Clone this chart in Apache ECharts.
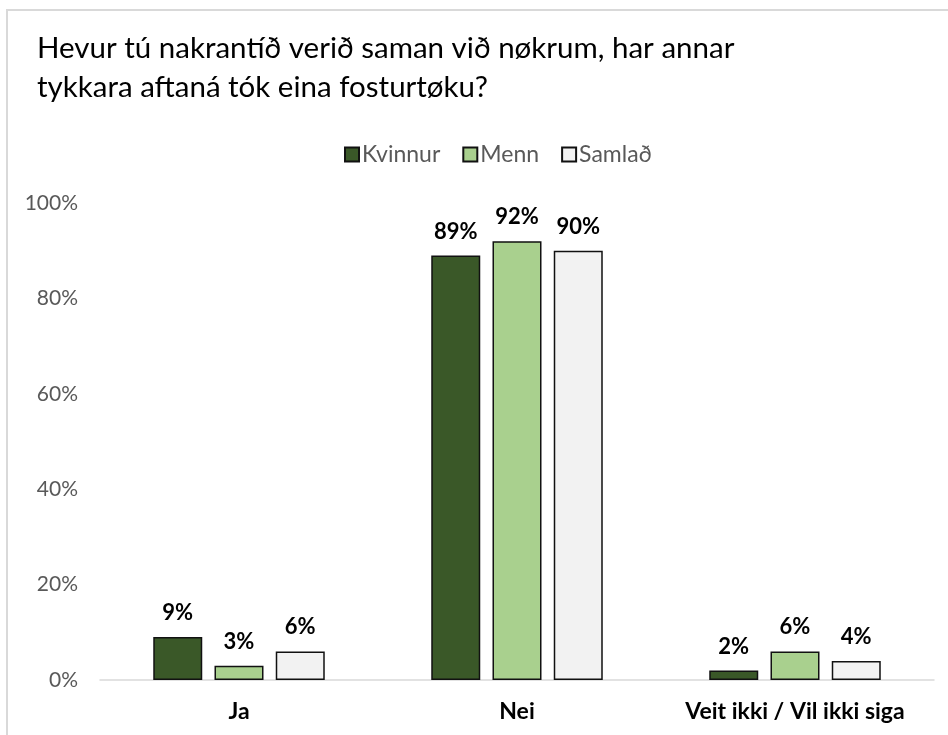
<!DOCTYPE html>
<html><head><meta charset="utf-8">
<script src="https://cdn.jsdelivr.net/npm/echarts@6/dist/echarts.min.js"></script>
<style>html,body{margin:0;padding:0;background:#fff}#c{width:948px;height:735px}</style>
</head><body><div id="c"></div>
<script>
const categories = ['Ja', 'Nei', 'Veit ikki / Vil ikki siga'];
const kvinnur = [9, 89, 2];
const menn = [3, 92, 6];
const samlad = [6, 90, 4];
const seriesNames = ['Kvinnur', 'Menn', 'Samlað'];
const yTicks = [0, 20, 40, 60, 80, 100];

const font = 'Lato, sans-serif';
const colors = ['#3a5828', '#a9d08e', '#f2f2f2'];
const chart = echarts.init(document.getElementById('c'));
function mk(name, data, i) {
  return {
    name, type: 'bar', data, barWidth: 49, barGap: '25%',
    itemStyle: { color: colors[i], borderColor: '#111', borderWidth: 1.5 },
    label: { show: true, position: 'top', distance: 13, formatter: '{c}%',
      fontFamily: font, fontWeight: 'bold', fontSize: 22, color: '#000' }
  };
}
chart.setOption({
  animation: false,
  textStyle: { fontFamily: font },
  graphic: [{ type: 'rect', shape: { x: 7, y: 10, width: 960, height: 760 },
    style: { fill: 'none', stroke: '#d9d9d9', lineWidth: 2 } }],
  title: { text: 'Hevur tú nakrantíð verið saman við nøkrum, har annar\ntykkara aftaná tók eina fosturtøku?',
    left: 32, top: 24,
    textStyle: { fontFamily: font, fontSize: 29.5, fontWeight: 'normal', color: '#000', lineHeight: 39 } },
  legend: { top: 138, left: 339, itemWidth: 14, itemHeight: 14, itemGap: 22,
    icon: 'rect',
    textStyle: { fontFamily: font, fontSize: 23, color: '#595959', padding: [0,0,0,-2] },
    data: seriesNames },
  grid: { left: 100, right: 14, top: 203, bottom: 55 },
  xAxis: { type: 'category', data: categories,
    axisLine: { lineStyle: { color: '#d9d9d9', width: 1.5 } }, axisTick: { show: false },
    axisLabel: { interval: 0, fontFamily: font, fontWeight: 'bold', fontSize: 23, color: '#000', margin: 20 } },
  yAxis: { type: 'value', min: 0, max: 100, interval: 20,
    axisLine: { show: false }, axisTick: { show: false }, splitLine: { show: false },
    axisLabel: { fontFamily: font, fontSize: 21, color: '#595959', margin: 22,
      formatter: v => yTicks.includes(v) ? v + '%' : '' } },
  series: [mk(seriesNames[0], kvinnur, 0), mk(seriesNames[1], menn, 1), mk(seriesNames[2], samlad, 2)]
});
</script></body></html>
